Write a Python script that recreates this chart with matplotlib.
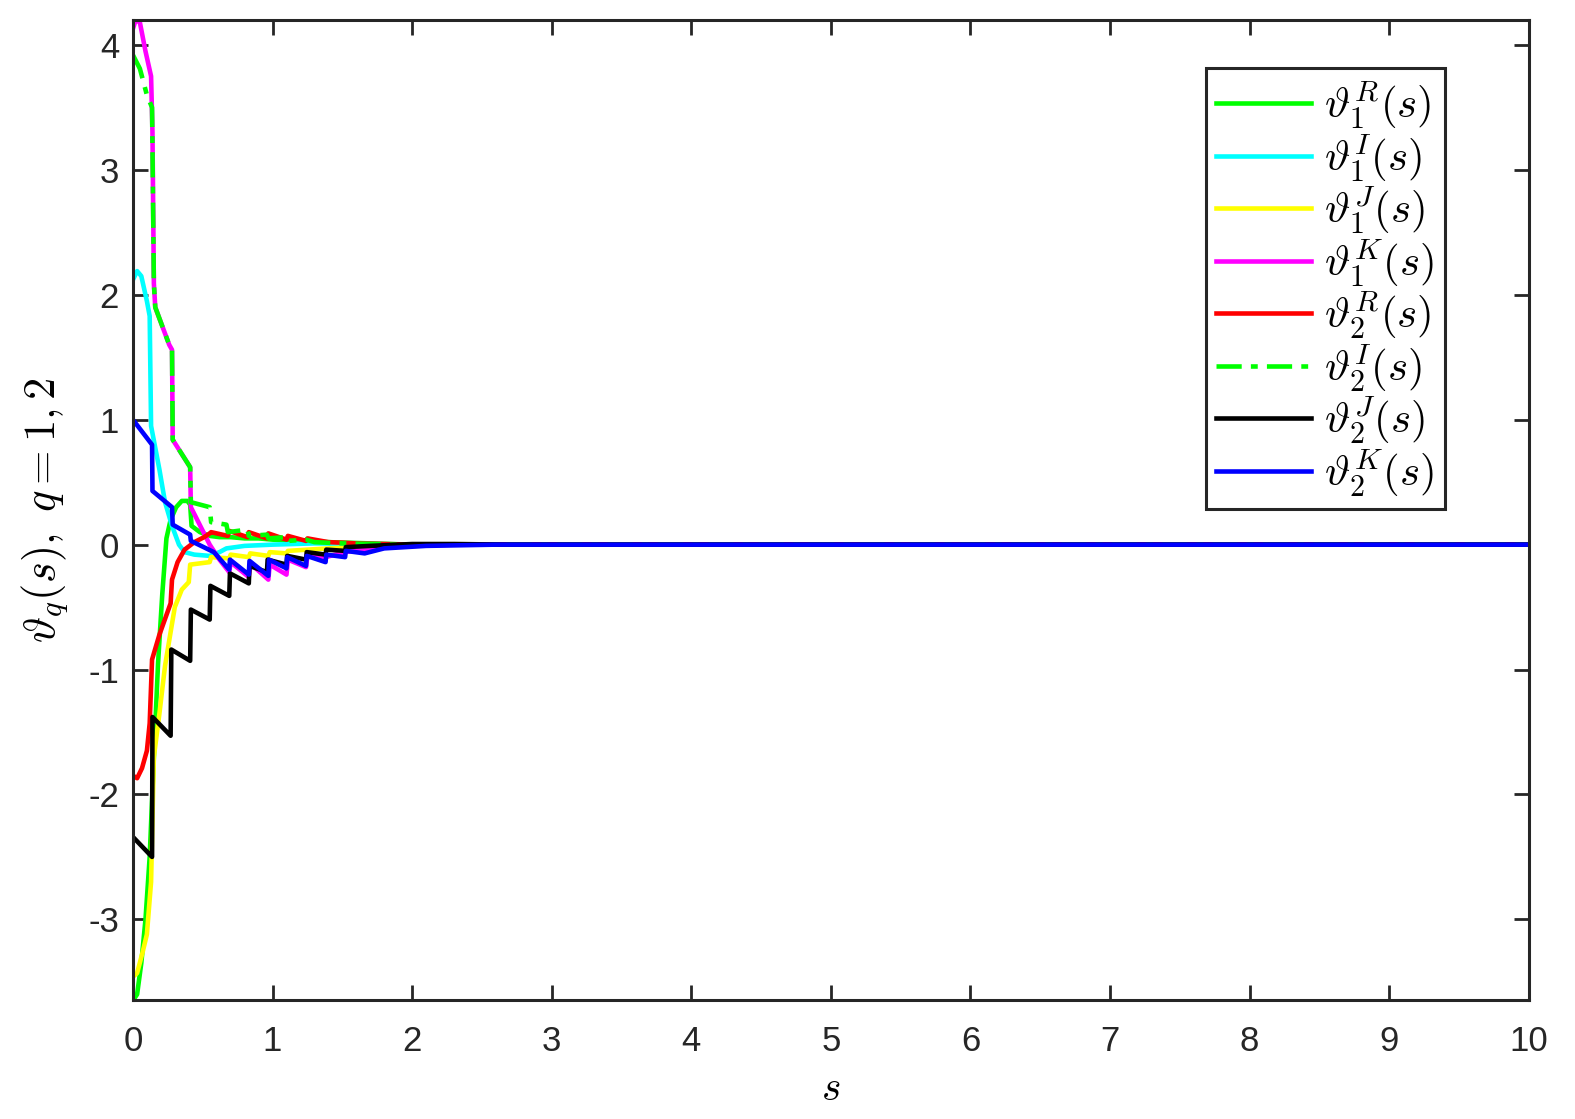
import matplotlib
matplotlib.use('Agg')
import matplotlib.pyplot as plt

# --- Data (s, value) ---
s_r1 = [0, 0.03, 0.06, 0.09, 0.12, 0.15, 0.18, 0.21, 0.24, 0.27, 0.31, 0.35, 0.39, 0.41, 0.42,
        0.48, 0.55, 0.62, 0.7, 0.8, 0.9, 1.0, 1.2, 1.4, 1.7, 2.0, 10]
v_r1 = [-3.65, -3.6, -3.35, -3.0, -2.5, -1.7, -0.95, -0.4, 0.05, 0.2, 0.3, 0.35, 0.35, 0.32, 0.15,
        0.1, 0.07, 0.06, 0.06, 0.05, 0.05, 0.04, 0.03, 0.02, 0.01, 0, 0]

s_i1 = [0, 0.03, 0.06, 0.1, 0.12, 0.13, 0.19, 0.23, 0.28, 0.33, 0.37, 0.44, 0.55, 0.62, 0.67,
        0.8, 1.0, 1.3, 1.7, 2.0, 10]
v_i1 = [2.12, 2.19, 2.15, 1.95, 1.83, 0.95, 0.6, 0.34, 0.15, 0.0, -0.06, -0.08, -0.09, -0.06,
        -0.03, -0.01, 0.0, 0.01, 0.005, 0, 0]

s_j1 = [0, 0.03, 0.07, 0.1, 0.13, 0.14, 0.15, 0.19, 0.23, 0.27, 0.3, 0.35, 0.4, 0.41, 0.55, 0.56,
        0.69, 0.7, 0.83, 0.84, 0.97, 0.98, 1.1, 1.11, 1.25, 1.4, 1.6, 1.8, 2.0, 10]
v_j1 = [-3.46, -3.43, -3.26, -3.12, -2.7, -2.2, -1.7, -1.35, -0.97, -0.7, -0.5, -0.36, -0.3, -0.16,
        -0.14, -0.1, -0.11, -0.08, -0.1, -0.07, -0.09, -0.06, -0.07, -0.05, -0.04, -0.03, -0.02,
        -0.01, 0, 0]

s_k1 = [0, 0.02, 0.05, 0.09, 0.13, 0.14, 0.15, 0.16, 0.26, 0.28, 0.285, 0.41, 0.415, 0.55, 0.62,
        0.69, 0.7, 0.83, 0.84, 0.97, 0.98, 1.1, 1.11, 1.24, 1.25, 1.38, 1.52, 1.7, 2.0, 2.3, 10]
v_k1 = [4.13, 4.2, 4.18, 3.95, 3.75, 3.3, 2.09, 1.9, 1.6, 1.56, 0.84, 0.62, 0.3, 0.0, -0.12,
        -0.22, -0.14, -0.26, -0.15, -0.28, -0.16, -0.24, -0.12, -0.18, -0.09, -0.1, -0.06, -0.03,
        -0.01, 0, 0]

s_r2 = [0, 0.03, 0.065, 0.1, 0.12, 0.137, 0.19, 0.27, 0.28, 0.32, 0.37, 0.44, 0.51, 0.55, 0.56,
        0.68, 0.69, 0.82, 0.83, 0.96, 0.97, 1.1, 1.11, 1.24, 1.25, 1.4, 1.6, 1.8, 2.0, 10]
v_r2 = [-1.85, -1.87, -1.79, -1.65, -1.43, -0.92, -0.72, -0.47, -0.28, -0.14, -0.04, 0.02, 0.06,
        0.09, 0.1, 0.07, 0.11, 0.06, 0.1, 0.05, 0.09, 0.04, 0.07, 0.03, 0.05, 0.02, 0.01, 0.005,
        0, 0]

s_i2 = [0, 0.05, 0.1, 0.137, 0.15, 0.16, 0.26, 0.28, 0.285, 0.41, 0.415, 0.55, 0.56, 0.67, 0.68,
        0.82, 0.83, 0.96, 0.97, 1.1, 1.11, 1.24, 1.3, 1.5, 1.7, 1.9, 10]
v_i2 = [3.92, 3.81, 3.6, 3.5, 2.09, 1.9, 1.6, 1.56, 0.84, 0.62, 0.34, 0.3, 0.18, 0.16, 0.1, 0.12,
        0.07, 0.08, 0.05, 0.06, 0.03, 0.04, 0.02, 0.01, 0.005, 0, 0]

s_j2 = [0, 0.137, 0.14, 0.27, 0.275, 0.41, 0.415, 0.55, 0.555, 0.69, 0.695, 0.83, 0.835, 0.96,
        0.965, 1.1, 1.105, 1.24, 1.245, 1.38, 1.385, 1.52, 1.525, 1.7, 2.0, 2.3, 2.7, 10]
v_j2 = [-2.34, -2.5, -1.38, -1.53, -0.84, -0.93, -0.52, -0.6, -0.33, -0.41, -0.23, -0.31, -0.17,
        -0.22, -0.12, -0.16, -0.09, -0.12, -0.06, -0.08, -0.04, -0.05, -0.02, -0.01, 0.005,
        0.005, 0, 0]

s_k2 = [0, 0.137, 0.14, 0.28, 0.285, 0.41, 0.415, 0.58, 0.69, 0.695, 0.83, 0.835, 0.97, 0.975,
        1.1, 1.105, 1.24, 1.245, 1.38, 1.385, 1.52, 1.525, 1.66, 1.8, 2.1, 2.6, 10]
v_k2 = [1.0, 0.8, 0.43, 0.3, 0.16, 0.08, 0.03, -0.06, -0.2, -0.12, -0.24, -0.13, -0.25, -0.12,
        -0.19, -0.1, -0.17, -0.09, -0.14, -0.08, -0.1, -0.05, -0.07, -0.03, -0.01, 0, 0]

labels = [r'$\vartheta_1^R(s)$', r'$\vartheta_1^I(s)$', r'$\vartheta_1^J(s)$',
          r'$\vartheta_1^K(s)$', r'$\vartheta_2^R(s)$', r'$\vartheta_2^I(s)$',
          r'$\vartheta_2^J(s)$', r'$\vartheta_2^K(s)$']

plt.rcParams['mathtext.fontset'] = 'cm'
plt.rcParams['font.family'] = ['Liberation Sans', 'DejaVu Sans']
plt.rcParams['axes.unicode_minus'] = False

fig = plt.figure(figsize=(15.75, 11.19), dpi=100)
ax = fig.add_axes([0.0844, 0.1063, 0.8863, 0.8758])

lw = 3.3
series = [
    (s_r1, v_r1, '#00ff00', '-'),
    (s_i1, v_i1, '#00ffff', '-'),
    (s_j1, v_j1, '#ffff00', '-'),
    (s_k1, v_k1, '#ff00ff', '-'),
    (s_r2, v_r2, '#ff0000', '-'),
    (s_i2, v_i2, '#00ff00', (0, (5.5, 2, 1.5, 2))),
    (s_j2, v_j2, '#000000', '-'),
    (s_k2, v_k2, '#0000ff', '-'),
]
for (sx, vy, c, ls), lab in zip(series, labels):
    ax.plot(sx, vy, color=c, linestyle=ls, linewidth=lw, label=lab)

ax.set_xlim(0, 10)
ax.set_ylim(-3.646, 4.2)
ax.set_xticks(range(0, 11))
ax.set_yticks([-3, -2, -1, 0, 1, 2, 3, 4])
ax.tick_params(direction='in', length=11, width=2, top=True, right=True,
               labelsize=25, colors='#262626')
ax.tick_params(axis='x', pad=18)
ax.tick_params(axis='y', pad=10)
for sp in ax.spines.values():
    sp.set_linewidth(2.2)
    sp.set_color('#262626')

ax.set_xlabel(r'$s$', fontsize=30, labelpad=8)
ax.set_ylabel(r'$\vartheta_q(s),\ q=1,2$', fontsize=32, labelpad=12)

leg = ax.legend(loc='upper right', bbox_to_anchor=(0.9398, 0.951), fontsize=31,
                handlelength=2.2, labelspacing=0.0, handletextpad=0.3,
                borderpad=0.25, borderaxespad=0, fancybox=False, framealpha=1,
                edgecolor='#262626')
leg.get_frame().set_linewidth(2.2)

fig.savefig('out.png', dpi=100)
